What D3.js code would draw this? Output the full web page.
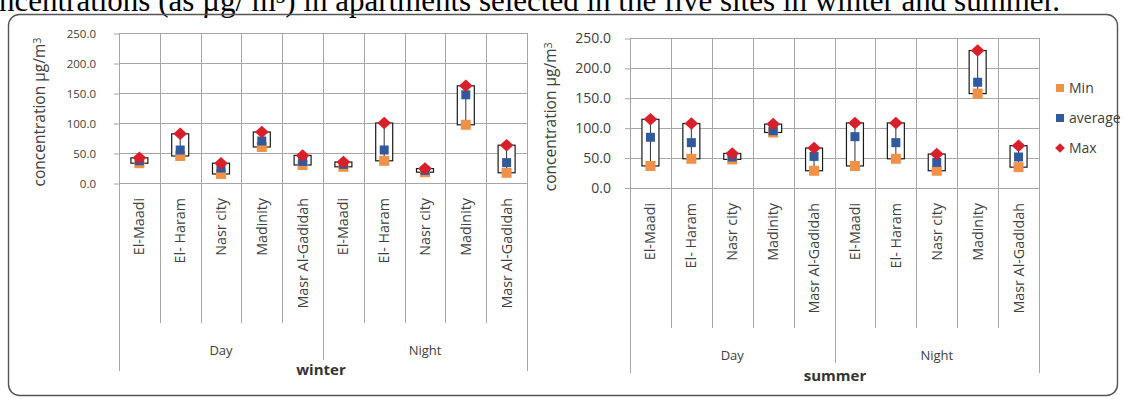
<!DOCTYPE html>
<html>
<head>
<meta charset="utf-8">
<script src="https://cdn.jsdelivr.net/npm/d3@7"></script>
<style>
  html, body { margin: 0; padding: 0; background: #fff; }
  svg { display: block; }
</style>
</head>
<body>
<svg id="chart" width="1124" height="399"></svg>
<script>
// Sites measured, repeated for the Day and Night periods
const sites = ["El-Maadi", "El- Haram", "Nasr city", "Madinity", "Masr Al-Gadidah"];
const periods = ["Day", "Night"];
const categories = periods.flatMap(p => sites.map(s => p + "|" + s));

// Winter concentrations (µg/m³), Day sites then Night sites
const winterMin = [33, 45, 15, 60, 30, 27, 37, 18, 97, 17];
const winterAvg = [37, 55, 25, 70, 36, 31, 55, 21, 147, 34];
const winterMax = [42, 82, 33, 85, 46, 35, 100, 24, 162, 63];

// Summer concentrations (µg/m³), Day sites then Night sites
const summerMin = [36, 48, 47, 92, 28, 36, 48, 28, 157, 34];
const summerAvg = [84, 75, 51, 95, 52, 85, 75, 42, 176, 51];
const summerMax = [114, 107, 57, 106, 66, 108, 108, 56, 229, 70];

const yTicks = [0, 50, 100, 150, 200, 250];
const seriesNames = ["Min", "average", "Max"];
const seriesColors = { Min: "#ef9148", average: "#2f5b9e", Max: "#d81f2a" };

const svg = d3.select("#chart");
const textColor = "#404040";
const gridColor = "#a6a6a6";

// caption line above the figure frame
svg.append("text")
  .attr("x", 1060).attr("y", 11)
  .attr("text-anchor", "end")
  .attr("font-family", "Liberation Serif, serif")
  .attr("font-size", 31)
  .attr("fill", "#000")
  .text("Concentrations (as µg/ m³) in apartments selected in the five sites in winter and summer.");

// rounded frame around both panels
svg.append("rect")
  .attr("x", 8.5).attr("y", 14.5)
  .attr("width", 1109).attr("height", 381)
  .attr("rx", 11).attr("ry", 11)
  .attr("fill", "none")
  .attr("stroke", "#555").attr("stroke-width", 1.4);

function drawPanel(cfg) {
  const g = svg.append("g");
  const x = d3.scaleBand().domain(categories).range([cfg.left, cfg.right]).padding(0);
  const y = d3.scaleLinear().domain([0, 250]).range([cfg.bottom, cfg.top]);
  const bw = x.bandwidth();
  const cx = c => x(c) + bw / 2;

  // horizontal gridlines
  g.append("g").selectAll("line").data(yTicks).join("line")
    .attr("x1", cfg.left).attr("x2", cfg.right)
    .attr("y1", d => Math.round(y(d)) + 0.5).attr("y2", d => Math.round(y(d)) + 0.5)
    .attr("stroke", gridColor).attr("stroke-width", 1);

  // y axis ticks and labels
  const yAxis = d3.axisLeft(y).tickValues(yTicks).tickFormat(d3.format(".1f")).tickSize(5).tickPadding(cfg.tickPad);
  const ya = g.append("g").attr("transform", `translate(${cfg.left},0.5)`).call(yAxis);
  ya.select(".domain").remove();
  ya.selectAll(".tick line").attr("stroke", gridColor);
  ya.selectAll(".tick text")
    .attr("font-family", "Open Sans, sans-serif")
    .attr("font-size", cfg.tickFont)
    .attr("fill", textColor);

  // vertical separators: gridlines inside the plot and category dividers below it
  const bounds = d3.range(categories.length + 1).map(i => cfg.left + i * bw);
  g.append("g").selectAll("line").data(bounds).join("line")
    .attr("x1", d => Math.round(d) + 0.5).attr("x2", d => Math.round(d) + 0.5)
    .attr("y1", cfg.top)
    .attr("y2", (d, i) => i === 0 || i === categories.length ? cfg.outerEnd
                        : i === sites.length ? cfg.midEnd : cfg.innerEnd)
    .attr("stroke", gridColor).attr("stroke-width", 1);

  // site labels, rotated
  g.append("g").selectAll("text").data(categories).join("text")
    .attr("transform", d => `translate(${cx(d)},${cfg.labelTop}) rotate(-90)`)
    .attr("text-anchor", "end")
    .attr("dy", "0.35em")
    .attr("font-family", "Open Sans, sans-serif")
    .attr("font-size", cfg.catFont)
    .attr("fill", textColor)
    .text(d => d.split("|")[1]);

  // period labels
  periods.forEach((p, pi) => {
    const first = categories[pi * sites.length];
    const last = categories[pi * sites.length + sites.length - 1];
    g.append("text")
      .attr("x", (x(first) + x(last) + bw) / 2)
      .attr("y", cfg.periodY)
      .attr("text-anchor", "middle")
      .attr("dy", "0.35em")
      .attr("font-family", "Open Sans, sans-serif")
      .attr("font-size", cfg.periodFont)
      .attr("fill", textColor)
      .text(p);
  });

  // season title
  g.append("text")
    .attr("x", cfg.titleX).attr("y", cfg.titleY)
    .attr("text-anchor", "middle").attr("dy", "0.35em")
    .attr("font-family", "Open Sans, sans-serif")
    .attr("font-weight", "bold")
    .attr("font-size", 15)
    .attr("fill", "#333")
    .text(cfg.title);

  // y axis title
  const yt = g.append("text")
    .attr("transform", `translate(${cfg.yTitleX},${(cfg.top + cfg.bottom) / 2 + cfg.yTitleShift}) rotate(-90)`)
    .attr("text-anchor", "middle").attr("dy", "0.35em")
    .attr("font-family", "Open Sans, sans-serif")
    .attr("font-size", cfg.yTitleFont)
    .attr("fill", textColor);
  yt.append("tspan").text("concentration µg/m");
  yt.append("tspan").attr("dy", "-0.45em").attr("font-size", cfg.yTitleFont * 0.7).text("3");

  const rows = categories.map((c, i) => ({ c, min: cfg.min[i], avg: cfg.avg[i], max: cfg.max[i] }));

  // range boxes from Min to Max
  const boxW = 17;
  g.append("g").selectAll("rect").data(rows).join("rect")
    .attr("x", d => cx(d.c) - boxW / 2)
    .attr("y", d => y(d.max))
    .attr("width", boxW)
    .attr("height", d => y(d.min) - y(d.max))
    .attr("fill", "#fff")
    .attr("stroke", "#1a1a1a").attr("stroke-width", 1.2);

  // high-low line
  g.append("g").selectAll("line").data(rows).join("line")
    .attr("x1", d => cx(d.c)).attr("x2", d => cx(d.c))
    .attr("y1", d => y(d.max)).attr("y2", d => y(d.min))
    .attr("stroke", "#333").attr("stroke-width", 1);

  // markers: Min and average squares, Max diamonds
  const sq = 10;
  g.append("g").selectAll("rect").data(rows).join("rect")
    .attr("x", d => cx(d.c) - sq / 2).attr("y", d => y(d.min) - sq / 2)
    .attr("width", sq).attr("height", sq)
    .attr("fill", seriesColors.Min);
  g.append("g").selectAll("rect").data(rows).join("rect")
    .attr("x", d => cx(d.c) - 4.5).attr("y", d => y(d.avg) - 4.5)
    .attr("width", 9).attr("height", 9)
    .attr("fill", seriesColors.average);
  const diamond = d3.symbol().type(d3.symbolDiamond2).size(100);
  g.append("g").selectAll("path").data(rows).join("path")
    .attr("transform", d => `translate(${cx(d.c)},${y(d.max)}) scale(1.1,1)`)
    .attr("d", diamond)
    .attr("fill", seriesColors.Max);

  return g;
}

drawPanel({
  left: 119, right: 527, top: 33, bottom: 183,
  tickFont: 11.5, tickPad: 18, catFont: 14.3, periodFont: 13,
  labelTop: 198, innerEnd: 323, midEnd: 360, outerEnd: 371,
  periodY: 350, title: "winter", titleX: 321, titleY: 370,
  yTitleX: 40, yTitleShift: 4, yTitleFont: 15.5,
  min: winterMin, avg: winterAvg, max: winterMax
});

drawPanel({
  left: 630, right: 1039, top: 38, bottom: 187.5,
  tickFont: 14, tickPad: 14, catFont: 14.3, periodFont: 13,
  labelTop: 203, innerEnd: 328, midEnd: 363, outerEnd: 373,
  periodY: 355, title: "summer", titleX: 835, titleY: 376,
  yTitleX: 551, yTitleShift: 4, yTitleFont: 15.5,
  min: summerMin, avg: summerAvg, max: summerMax
});

// legend
const legend = svg.append("g").attr("transform", "translate(1060,0)");
const legendY = [88, 118, 148];
seriesNames.forEach((name, i) => {
  const row = legend.append("g").attr("transform", `translate(0,${legendY[i]})`);
  if (name === "Max") {
    row.append("path")
      .attr("d", d3.symbol().type(d3.symbolDiamond2).size(60))
      .attr("fill", seriesColors[name]);
  } else {
    row.append("rect").attr("x", -4).attr("y", -4).attr("width", 8).attr("height", 8)
      .attr("fill", seriesColors[name]);
  }
  row.append("text")
    .attr("x", 9).attr("dy", "0.35em")
    .attr("font-family", "Open Sans, sans-serif")
    .attr("font-size", 14)
    .attr("fill", textColor)
    .text(name);
});
</script>
</body>
</html>
